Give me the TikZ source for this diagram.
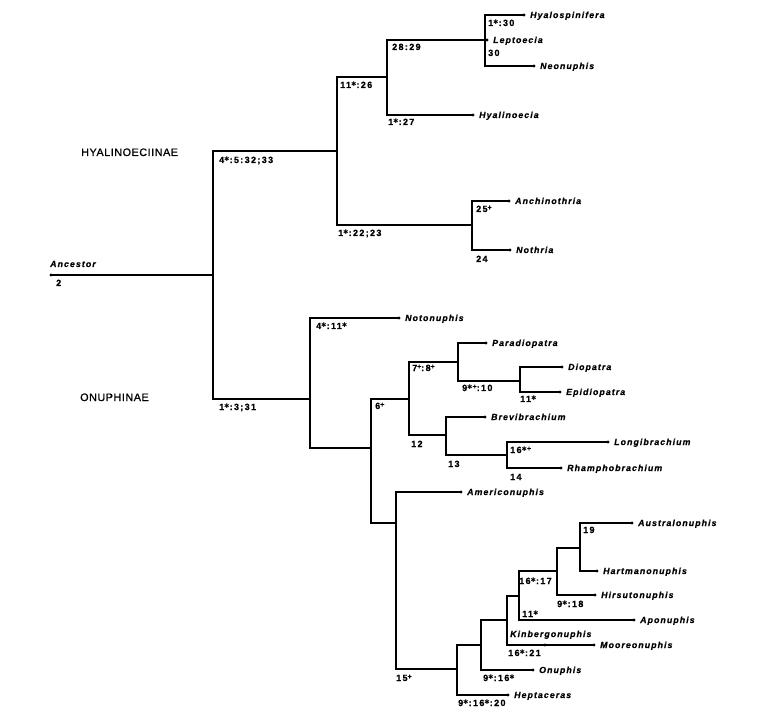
\documentclass[tikz,border=0pt]{standalone}
\usepackage{fontspec}
\setmainfont{Liberation Sans}
\newfontfamily\taxfont[LetterSpace=12,FakeBold=0.6]{Liberation Sans}
\newfontfamily\numfont[LetterSpace=15,FakeBold=0.6]{Liberation Sans}
\newfontfamily\capfont[LetterSpace=5,FakeBold=0.8]{Liberation Sans}
\newfontfamily\symfont{DejaVu Sans}
\newcommand{\pl}{\raisebox{0.45ex}{\fontsize{7}{7}\selectfont +}}
\newcommand{\st}{\raisebox{0.35ex}{\symfont\fontsize{6.5}{7}\selectfont ✱}}
\begin{document}
\begin{tikzpicture}[x=1pt,y=-1pt,
  br/.style={line width=1.05pt, line cap=rect},
  leaf/.style={anchor=base west, inner sep=0pt, xshift=6pt, yshift=-3pt,
    font=\taxfont\fontsize{8.8}{10}\selectfont\bfseries\itshape},
  tax/.style={anchor=base west, inner sep=0pt,
    font=\taxfont\fontsize{8.8}{10}\selectfont\bfseries\itshape},
  lab/.style={anchor=base west, inner sep=0pt,
    font=\numfont\fontsize{9}{10}\selectfont\bfseries},
  grp/.style={anchor=base west, inner sep=0pt,
    font=\capfont\fontsize{10.8}{12}\selectfont}]
\useasboundingbox (0,0) rectangle (758,719);

% internal nodes
\coordinate (anc) at (51,275);
\coordinate (R)  at (213,275);
\coordinate (H)  at (337,151);
\coordinate (H1) at (387,77);
\coordinate (H2) at (485,40);
\coordinate (H3) at (472,225);
\coordinate (O)  at (310,399);
\coordinate (P)  at (371,448);
\coordinate (Q)  at (409,399);
\coordinate (Q1) at (458,362);
\coordinate (Q2) at (520,381);
\coordinate (Q3) at (446,435);
\coordinate (Q4) at (507,455);
\coordinate (S)  at (396,523);
\coordinate (T)  at (457,669);
\coordinate (U)  at (481,645);
\coordinate (V)  at (507,620);
\coordinate (W)  at (519,596);
\coordinate (X)  at (557,571);
\coordinate (Y)  at (580,548);

% leaves
\coordinate (hyasp) at (524,15);
\coordinate (lepto) at (487,40);
\coordinate (neon)  at (534,66);
\coordinate (hyali) at (473,115);
\coordinate (anchi) at (509,201);
\coordinate (nothr) at (510,250);
\coordinate (noton) at (399,318);
\coordinate (parad) at (486,343);
\coordinate (diop)  at (562,367);
\coordinate (epid)  at (560,392);
\coordinate (brevi) at (485,417);
\coordinate (longi) at (608,442);
\coordinate (rhamp) at (561,468);
\coordinate (ameri) at (461,492);
\coordinate (austr) at (632,523);
\coordinate (hartm) at (597,571);
\coordinate (hirsu) at (595,595);
\coordinate (apon)  at (634,620);
\coordinate (moore) at (594,645);
\coordinate (kinb)  at (545,645);
\coordinate (onup)  at (533,670);
\coordinate (hept)  at (508,695);

% branches
\draw[br] (anc) -- (R);
\draw[br] (R) |- (H);
\draw[br] (R) |- (O);
\draw[br] (H) |- (H1);
\draw[br] (H) |- (H3);
\draw[br] (H1) |- (H2);
\draw[br] (H1) |- (hyali);
\draw[br] (H2) |- (hyasp);
\draw[br] (H2) -- (lepto);
\draw[br] (H2) |- (neon);
\draw[br] (H3) |- (anchi);
\draw[br] (H3) |- (nothr);
\draw[br] (O) |- (noton);
\draw[br] (O) |- (P);
\draw[br] (P) |- (Q);
\draw[br] (P) |- (S);
\draw[br] (Q) |- (Q1);
\draw[br] (Q) |- (Q3);
\draw[br] (Q1) |- (parad);
\draw[br] (Q1) |- (Q2);
\draw[br] (Q2) |- (diop);
\draw[br] (Q2) |- (epid);
\draw[br] (Q3) |- (brevi);
\draw[br] (Q3) |- (Q4);
\draw[br] (Q4) |- (longi);
\draw[br] (Q4) |- (rhamp);
\draw[br] (S) |- (ameri);
\draw[br] (S) |- (T);
\draw[br] (T) |- (U);
\draw[br] (T) |- (hept);
\draw[br] (U) |- (V);
\draw[br] (U) |- (onup);
\draw[br] (V) |- (W);
\draw[br] (V) |- (moore);
\draw[br] (W) |- (X);
\draw[br] (W) |- (apon);
\draw[br] (X) |- (Y);
\draw[br] (X) |- (hirsu);
\draw[br] (Y) |- (austr);
\draw[br] (Y) |- (hartm);

% dots
\foreach \c in {anc,hyasp,lepto,neon,hyali,anchi,nothr,noton,parad,diop,epid,brevi,longi,rhamp,ameri,austr,hartm,hirsu,apon,moore,kinb,onup,hept}
  \fill (\c) circle[radius=1.6pt];

% taxon names
\node[leaf] (hyasp-l) at (hyasp) {Hyalospinifera};
\node[leaf] (lepto-l) at (lepto) {Leptoecia};
\node[leaf] (neon-l)  at (neon)  {Neonuphis};
\node[leaf] (hyali-l) at (hyali) {Hyalinoecia};
\node[leaf] (anchi-l) at (anchi) {Anchinothria};
\node[leaf] (nothr-l) at (nothr) {Nothria};
\node[leaf] (noton-l) at (noton) {Notonuphis};
\node[leaf] (parad-l) at (parad) {Paradiopatra};
\node[leaf] (diop-l)  at (diop)  {Diopatra};
\node[leaf] (epid-l)  at (epid)  {Epidiopatra};
\node[leaf] (brevi-l) at (brevi) {Brevibrachium};
\node[leaf] (longi-l) at (longi) {Longibrachium};
\node[leaf] (rhamp-l) at (rhamp) {Rhamphobrachium};
\node[leaf] (ameri-l) at (ameri) {Americonuphis};
\node[leaf] (austr-l) at (austr) {Australonuphis};
\node[leaf] (hartm-l) at (hartm) {Hartmanonuphis};
\node[leaf] (hirsu-l) at (hirsu) {Hirsutonuphis};
\node[leaf] (apon-l)  at (apon)  {Aponuphis};
\node[leaf] (moore-l) at (moore) {Mooreonuphis};
\node[leaf] (onup-l)  at (onup)  {Onuphis};
\node[leaf] (hept-l)  at (hept)  {Heptaceras};
\node[tax]  (kinb-l)  at (510,637) {Kinbergonuphis};
\node[tax]  (anc-l)   at (50,267) {Ancestor};

% group names
\node[grp] (hyalgrp) at (81,156) {HYALINOECIINAE};
\node[grp] (onugrp)  at (80,401) {ONUPHINAE};

% character labels
\node[lab] (c1)  at (488,26)  {1\st:30};
\node[lab] (c2)  at (488,56)  {30};
\node[lab] (c3)  at (392,50)  {28:29};
\node[lab] (c4)  at (388,125) {1\st:27};
\node[lab] (c5)  at (340,88)  {11\st:26};
\node[lab] (c6)  at (219,163) {4\st:5:32;33};
\node[lab] (c7)  at (338,236) {1\st:22;23};
\node[lab] (c8)  at (476,212) {25\pl};
\node[lab] (c9)  at (476,262) {24};
\node[lab] (c10) at (56,286)  {2};
\node[lab] (c11) at (219,410) {1\st:3;31};
\node[lab] (c12) at (316,329) {4\st:11\st};
\node[lab] (c13) at (375,409) {6\pl};
\node[lab] (c14) at (412,371) {7\pl:8\pl};
\node[lab] (c15) at (462,391) {9\st\pl:10};
\node[lab] (c16) at (520,402) {11\st};
\node[lab] (c17) at (411,447) {12};
\node[lab] (c18) at (448,467) {13};
\node[lab] (c19) at (510,453) {16\st\pl};
\node[lab] (c20) at (510,480) {14};
\node[lab] (c21) at (396,681) {15\pl};
\node[lab] (c22) at (583,533) {19};
\node[lab] (c23) at (519,584) {16\st:17};
\node[lab] (c24) at (557,607) {9\st:18};
\node[lab] (c25) at (522,617) {11\st};
\node[lab] (c26) at (508,656) {16\st:21};
\node[lab] (c27) at (483,681) {9\st:16\st};
\node[lab] (c28) at (458,706) {9\st:16\st:20};
\end{tikzpicture}
\end{document}
